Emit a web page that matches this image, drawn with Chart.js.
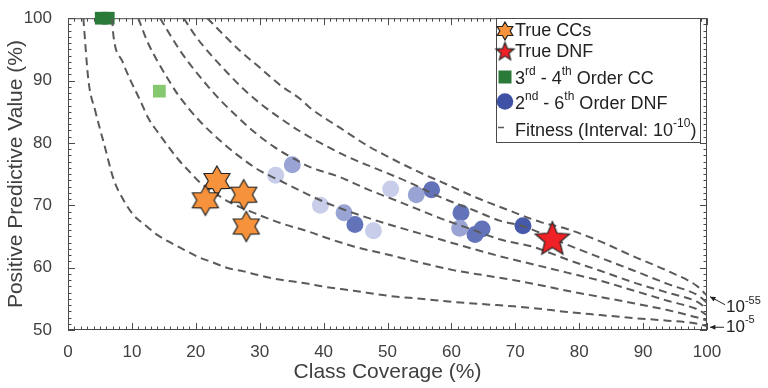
<!DOCTYPE html>
<html>
<head>
<meta charset="utf-8">
<script src="https://cdn.jsdelivr.net/npm/chart.js@4.4.1/dist/chart.umd.min.js"></script>
<style>
    html, body { margin: 0; padding: 0; background: #fff; }
    #canvasChart { display: block; }
</style>
</head>
<body>
<canvas id="canvasChart" width="768" height="388"></canvas>
<script>
// curvas de fitness, de 10^-5 ate 10^-55
const fit5 = [[2.4,100],[3.2,90],[4.3,85],[5.6,80],[7.2,74],[8.6,71],[10.2,68.5],[12.1,66.8],[13.9,65.3],[15.7,64.2],[18.1,62.9],[20.4,61.7],[22.5,60.9],[25.1,59.9],[27.5,59.4],[29.8,58.8],[32.4,58.2],[35,57.8],[37.6,57.4],[39.7,57.0],[44.7,56.3],[50,55.5],[55.2,55.0],[60.3,54.5],[65.6,54.1],[69.7,53.8],[72.9,53.5],[78.1,52.9],[83.3,52.4],[88.6,51.9],[93.8,51.5],[98.5,51.0],[100,50.6]];
const fit15 = [[6.9,100],[7.1,97.3],[8.5,93.1],[9.8,90],[11.3,86.8],[12.6,83.9],[14,81.8],[15.5,79.7],[17.3,77.3],[19.2,75.2],[20.7,73.6],[22.5,72.3],[25.1,70.6],[29.3,68.7],[33.4,67.1],[37.6,65.8],[40.4,64.8],[44.7,63.4],[50,62.1],[55.2,60.8],[60.3,59.6],[65.6,58.7],[70.3,57.9],[72.9,57.4],[78.1,56.3],[83.3,55.3],[88.5,54.3],[93.8,53.2],[98.5,52.0],[100,51.5]];
const fit25 = [[11,100],[12.4,96.3],[14,93.1],[15.5,90.5],[17.1,87.9],[18.9,85.5],[20.7,83.4],[22.8,81.3],[24.9,79.4],[27.5,77.3],[30.1,75.5],[32.7,74.2],[36.4,72.3],[39.5,70.8],[44,69],[50,67],[55,65.5],[60,64],[67.7,61.8],[72.9,60.5],[78.1,59.2],[83.3,57.9],[88.6,56.3],[93.8,54.7],[98.5,53.3],[100,52.4]];
const fit35 = [[14.4,100],[16,97.3],[17.6,94.7],[19.7,91.8],[21.8,89.2],[23.9,86.8],[26.5,84.2],[29.1,81.8],[32.2,79.4],[35.3,77.5],[37.7,76.2],[42.6,74.5],[46.8,72.6],[52,70.5],[58.3,67.9],[63,66.2],[67.7,64.5],[72.9,63.3],[78.1,61.3],[83.3,59.5],[88.6,57.6],[93.8,56],[98.5,54.5],[100,53.4]];
const fit45 = [[18.1,100],[20.2,96.8],[22.3,94.2],[24.9,91.3],[27.5,88.6],[30.1,86.3],[33.3,83.9],[36.4,81.8],[39.5,80],[43.7,77.8],[48.4,75.8],[53.1,73.8],[58.3,71.3],[63.5,69.2],[67.7,67.5],[71.3,66.6],[78.1,63.7],[83.3,61.6],[88.6,59.5],[93.8,57.4],[98.5,55.6],[100,54.4]];
const fit55 = [[21.8,100],[24.4,97.3],[27,94.7],[30.1,92],[33.3,89.2],[36.4,87],[37.9,85.6],[42.6,82.4],[46.8,79.6],[51,77.3],[55.2,75.2],[58.3,73.8],[63.5,71.4],[68.7,69.3],[74,67.3],[78.1,66.2],[83.3,64.2],[88.5,61.8],[93.8,59.5],[98.5,57],[100,55.5]];

// marcadores
const trueCCs = [[23.3,73.9],[21.5,70.8],[27.5,71.7],[27.9,66.6]];
const trueDNF = [[75.8,64.5]];
const ccEscuro = [[5.2,100],[6.3,100]];
const ccClaro = [[14.3,88.3]];
const dnfClaro = [[32.5,74.8],[39.5,70],[47.8,65.9],[50.5,72.6]];
const dnfMedio = [[35.1,76.5],[43.2,68.8],[54.5,71.7],[61.3,66.3]];
const dnfEscuro = [[44.9,66.9],[56.9,72.5],[61.5,68.8],[63.7,65.3],[64.8,66.2]];
const dnfMaisEscuro = [[71.2,66.7]];

const xTicks = [0, 10, 20, 30, 40, 50, 60, 70, 80, 90, 100];
const yTicks = [50, 60, 70, 80, 90, 100];

const FONTE = "'Liberation Sans', Arial, sans-serif";
const COR_TEXTO = '#404040';
const COR_EIXO = '#4a4a4a';
const COR_CURVA = '#5a5a5a';

const pts = (lista) => lista.map(p => ({ x: p[0], y: p[1] }));

const criarEstrela = (pontas, rExt, rInt, cor) => {
    const c = document.createElement('canvas');
    const t = Math.ceil(rExt * 2 + 4);
    c.width = t;
    c.height = t;
    const g = c.getContext('2d');
    g.beginPath();
    for (let i = 0; i < pontas * 2; i++) {
        const r = i % 2 === 0 ? rExt : rInt;
        const ang = -Math.PI / 2 + i * Math.PI / pontas;
        const px = t / 2 + r * Math.cos(ang);
        const py = t / 2 + r * Math.sin(ang);
        if (i === 0) g.moveTo(px, py); else g.lineTo(px, py);
    }
    g.closePath();
    g.fillStyle = cor;
    g.fill();
    g.strokeStyle = '#222';
    g.lineWidth = 1.2;
    g.stroke();
    return c;
};

const estrelaLaranja = criarEstrela(6, 15, 8.7, '#f7923c');
const estrelaVermelha = criarEstrela(5, 18, 8, '#ee2226');
const estrelaLaranjaLeg = criarEstrela(6, 9, 5.2, '#f7923c');
const estrelaVermelhaLeg = criarEstrela(5, 9.5, 4.1, '#ee2226');

const curva = (lista) => ({
    data: pts(lista),
    showLine: true,
    pointRadius: 0,
    borderColor: COR_CURVA,
    borderWidth: 2,
    borderDash: [8, 5],
    cubicInterpolationMode: 'monotone',
    order: 1
});

const bolinha = (lista, cor) => ({
    data: pts(lista),
    pointStyle: 'circle',
    pointRadius: 8.5,
    backgroundColor: cor,
    borderWidth: 0,
    order: 2
});

// texto com expoente, devolve a largura
const textoSup = (ctx, partes, x, y, tam) => {
    let cx = x;
    partes.forEach(p => {
        const sup = p.startsWith('^');
        const txt = sup ? p.slice(1) : p;
        ctx.font = (sup ? Math.round(tam * 0.65) : tam) + 'px ' + FONTE;
        ctx.fillText(txt, cx, sup ? y - tam * 0.42 : y);
        cx += ctx.measureText(txt).width;
    });
    return cx - x;
};

const molduraPlugin = {
    id: 'moldura',
    beforeDatasetsDraw(chart) {
        const { ctx, chartArea: a, scales: { x, y } } = chart;
        ctx.save();
        ctx.strokeStyle = COR_EIXO;
        ctx.lineWidth = 1;
        ctx.strokeRect(a.left + 0.5, a.top + 0.5, a.right - a.left - 1, a.bottom - a.top - 1);
        ctx.beginPath();
        for (let v = 0; v <= 100; v++) {
            const px = Math.round(x.getPixelForValue(v)) + 0.5;
            const len = v % 10 === 0 ? 7 : 3.5;
            ctx.moveTo(px, a.bottom); ctx.lineTo(px, a.bottom - len);
            ctx.moveTo(px, a.top); ctx.lineTo(px, a.top + len);
        }
        for (let v = 50; v <= 100; v++) {
            const py = Math.round(y.getPixelForValue(v)) + 0.5;
            const len = v % 10 === 0 ? 7 : 3.5;
            ctx.moveTo(a.left, py); ctx.lineTo(a.left + len, py);
            ctx.moveTo(a.right, py); ctx.lineTo(a.right - len, py);
        }
        ctx.stroke();
        ctx.restore();
    },
    afterDraw(chart) {
        const { ctx, chartArea: a, scales: { y } } = chart;
        ctx.save();

        // legenda
        const lx = 496, ly = 18, lw = 204, lh = 124;
        ctx.fillStyle = '#fff';
        ctx.fillRect(lx, ly, lw, lh);
        ctx.strokeStyle = COR_EIXO;
        ctx.lineWidth = 1;
        ctx.strokeRect(lx + 0.5, ly + 0.5, lw, lh);

        const mx = 505, tx = 515, tam = 18;
        ctx.drawImage(estrelaLaranjaLeg, mx - estrelaLaranjaLeg.width / 2, 31 - estrelaLaranjaLeg.height / 2);
        ctx.drawImage(estrelaVermelhaLeg, mx - estrelaVermelhaLeg.width / 2, 52 - estrelaVermelhaLeg.height / 2);
        ctx.fillStyle = '#2a7a3a';
        ctx.fillRect(mx - 6.5, 77 - 6.5, 13, 13);
        ctx.fillStyle = '#3f51a5';
        ctx.beginPath();
        ctx.arc(mx, 101.5, 8.3, 0, Math.PI * 2);
        ctx.fill();
        ctx.strokeStyle = COR_CURVA;
        ctx.lineWidth = 1.5;
        ctx.beginPath();
        ctx.moveTo(498, 127.5); ctx.lineTo(504, 127.5);
        ctx.stroke();

        ctx.fillStyle = '#222';
        ctx.textBaseline = 'middle';
        ctx.textAlign = 'left';
        textoSup(ctx, ['True CCs'], tx, 31, tam);
        textoSup(ctx, ['True DNF'], tx, 52, tam);
        textoSup(ctx, ['3', '^rd', ' - 4', '^th', ' Order CC'], tx, 79, tam);
        textoSup(ctx, ['2', '^nd', ' - 6', '^th', ' Order DNF'], tx, 104, tam);
        textoSup(ctx, ['Fitness (Interval: 10', '^-10', ')'], tx, 131, tam);

        // rotulos das curvas na direita
        ctx.strokeStyle = '#222';
        ctx.fillStyle = '#222';
        ctx.lineWidth = 1;
        const seta = (x1, y1, x2, y2) => {
            ctx.beginPath();
            ctx.moveTo(x1, y1); ctx.lineTo(x2, y2);
            ctx.stroke();
            const ang = Math.atan2(y2 - y1, x2 - x1);
            ctx.beginPath();
            ctx.moveTo(x2, y2);
            ctx.lineTo(x2 - 6 * Math.cos(ang - 0.45), y2 - 6 * Math.sin(ang - 0.45));
            ctx.lineTo(x2 - 6 * Math.cos(ang + 0.45), y2 - 6 * Math.sin(ang + 0.45));
            ctx.closePath();
            ctx.fill();
        };
        const y55 = y.getPixelForValue(fit55[fit55.length - 1][1]);
        const y5 = y.getPixelForValue(fit5[fit5.length - 1][1]);
        seta(725, y55 + 9, a.right + 3, y55 + 1);
        seta(724, y5 + 1, a.right + 3, y5 + 1);
        textoSup(ctx, ['10', '^-55'], 726, y55 + 12, 17);
        textoSup(ctx, ['10', '^-5'], 726, y5 + 1, 17);

        ctx.restore();
    }
};

let ctx = document.querySelector('#canvasChart');
let myChart = new Chart(ctx, {
    type: 'scatter',
    data: {
        datasets: [
            { data: pts(trueCCs), pointStyle: estrelaLaranja, order: 0 },
            { data: pts(trueDNF), pointStyle: estrelaVermelha, order: 0 },
            curva(fit5),
            curva(fit15),
            curva(fit25),
            curva(fit35),
            curva(fit45),
            curva(fit55),
            { data: pts(ccEscuro), pointStyle: 'rect', pointRadius: 9, backgroundColor: '#2a7a3a', borderWidth: 0, clip: false, order: 2 },
            { data: pts(ccClaro), pointStyle: 'rect', pointRadius: 9, backgroundColor: '#86c870', borderWidth: 0, clip: false, order: 2 },
            bolinha(dnfClaro, '#c8cdea'),
            bolinha(dnfMedio, '#99a4d5'),
            bolinha(dnfEscuro, '#6273b9'),
            bolinha(dnfMaisEscuro, '#4659aa')
        ]
    },
    options: {
        responsive: false,
        animation: false,
        devicePixelRatio: 1,
        layout: { padding: { top: 13, right: 61, left: 0, bottom: 0 } },
        plugins: {
            legend: { display: false },
            tooltip: { enabled: false }
        },
        scales: {
            x: {
                type: 'linear',
                min: 0,
                max: 100,
                afterFit: (s) => { s.height = 58; },
                afterBuildTicks: (s) => { s.ticks = xTicks.map(v => ({ value: v })); },
                ticks: { color: COR_TEXTO, padding: 4, font: { family: FONTE, size: 17 } },
                grid: { display: false },
                border: { display: false },
                title: {
                    display: true,
                    text: 'Class Coverage (%)',
                    color: COR_TEXTO,
                    font: { family: FONTE, size: 21 },
                    padding: { top: 0, bottom: 3 }
                }
            },
            y: {
                type: 'linear',
                min: 50,
                max: 100,
                afterFit: (s) => { s.width = 68; },
                afterBuildTicks: (s) => { s.ticks = yTicks.map(v => ({ value: v })); },
                ticks: { color: COR_TEXTO, padding: 8, font: { family: FONTE, size: 17 } },
                grid: { display: false },
                border: { display: false },
                title: {
                    display: true,
                    text: 'Positive Predictive Value (%)',
                    color: COR_TEXTO,
                    font: { family: FONTE, size: 21 },
                    padding: { top: 4, bottom: 0 }
                }
            }
        }
    },
    plugins: [molduraPlugin]
});
</script>
</body>
</html>
